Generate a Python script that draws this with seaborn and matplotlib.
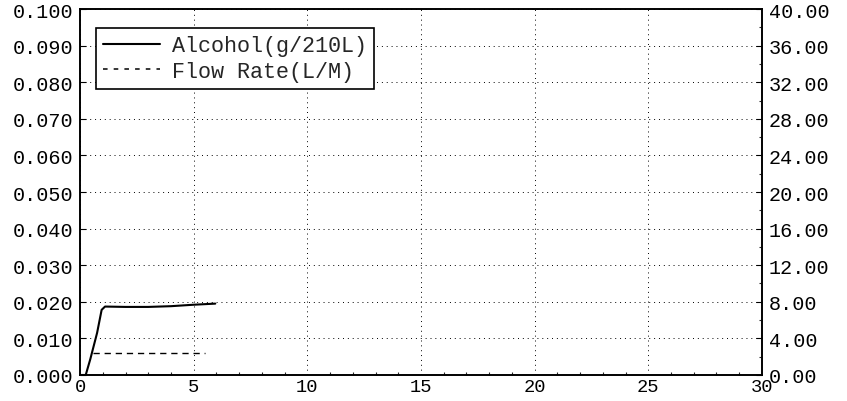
import matplotlib
matplotlib.use("Agg")
import matplotlib.pyplot as plt
import seaborn as sns
import pandas as pd
from matplotlib.ticker import MultipleLocator, FormatStrFormatter
from matplotlib.lines import Line2D

# Data
alc_time = [0.0, 0.25, 0.45, 0.75, 0.95, 1.1, 2.0, 3.0, 4.0, 5.0, 5.95]
alc_vals = [0.0, 0.0, 0.0043, 0.0115, 0.0178, 0.0187, 0.0186, 0.0186, 0.0188, 0.0192, 0.0195]
flow_time = [0.55, 5.5]
flow_vals = [2.35, 2.35]

left_ticks = [0.0, 0.01, 0.02, 0.03, 0.04, 0.05, 0.06, 0.07, 0.08, 0.09, 0.10]
right_ticks = [0, 4, 8, 12, 16, 20, 24, 28, 32, 36, 40]
x_ticks = [0, 5, 10, 15, 20, 25, 30]
series_labels = ["Alcohol(g/210L)", "Flow Rate(L/M)"]

sns.set_style("white")
plt.rcParams['font.family'] = ['Liberation Mono', 'DejaVu Sans Mono']

fig = plt.figure(figsize=(8.47, 4.02), dpi=100)
ax = fig.add_axes([0.0945, 0.0647, 0.8051, 0.9104])
ax2 = ax.twinx()

df_a = pd.DataFrame({"t": alc_time, "v": alc_vals})
df_f = pd.DataFrame({"t": flow_time, "v": flow_vals})

sns.lineplot(data=df_a, x="t", y="v", ax=ax, color="black", linewidth=1.5,
             legend=False)
sns.lineplot(data=df_f, x="t", y="v", ax=ax2, color="black", linewidth=1.0,
             linestyle=(0, (4.5, 3.5)), legend=False)

ax.set_xlim(0, 30)
ax.set_ylim(0, 0.1)
ax2.set_ylim(0, 40)
ax.set_xticks(x_ticks)
ax.set_yticks(left_ticks)
ax2.set_yticks(right_ticks)
ax.yaxis.set_major_formatter(FormatStrFormatter('%.3f'))
ax2.yaxis.set_major_formatter(FormatStrFormatter('%.2f'))
ax.xaxis.set_minor_locator(MultipleLocator(1))
ax2.yaxis.set_minor_locator(MultipleLocator(2))

for a in (ax, ax2):
    a.set_xlabel("")
    a.set_ylabel("")
    for s in a.spines.values():
        s.set_color("black")
        s.set_linewidth(1.2)

ax.grid(True, which="major", color="black", linestyle=(0, (1, 4)), linewidth=0.7)
ax.tick_params(axis="y", which="major", direction="in", length=4, width=0.8,
               labelsize=14.5, colors="black", pad=5)
ax.tick_params(axis="x", which="major", direction="in", length=4, width=0.8,
               labelsize=13.5, colors="black", pad=2.5)
ax.tick_params(axis="x", which="minor", direction="in", length=2.5, width=0.8, bottom=True)
ax2.tick_params(axis="y", which="major", direction="in", length=4, width=0.8,
                labelsize=14.5, colors="black", pad=5)
ax2.tick_params(axis="y", which="minor", direction="in", length=2.5, width=0.8)

handles = [Line2D([], [], color="black", linewidth=1.5),
           Line2D([], [], color="black", linewidth=1.1, linestyle=(0, (3, 4)))]
leg = ax2.legend(handles, series_labels, loc="upper left", bbox_to_anchor=(0.023, 0.948),
                 fontsize=15.7, frameon=True, fancybox=False, framealpha=1,
                 edgecolor="black", borderpad=0.33, handlelength=2.6,
                 handletextpad=0.55, labelspacing=0.22, borderaxespad=0)
leg.get_frame().set_linewidth(1.2)

fig.savefig("out.png", dpi=100)
